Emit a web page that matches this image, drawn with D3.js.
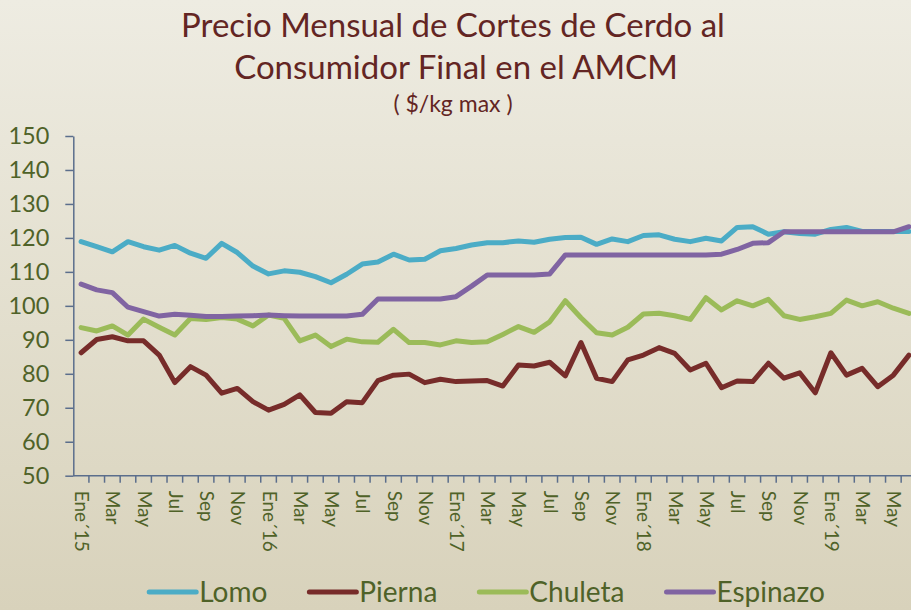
<!DOCTYPE html>
<html>
<head>
<meta charset="utf-8">
<script src="https://cdn.jsdelivr.net/npm/d3@7"></script>
<style>
  body { margin: 0; }
  svg { display: block; font-family: Lato, "Open Sans", sans-serif; }
</style>
</head>
<body>
<svg id="chart" width="911" height="610"></svg>
<script>
// months Ene 2015 .. Jun 2019
var months = [
    "2015-01","2015-02","2015-03","2015-04","2015-05","2015-06","2015-07","2015-08","2015-09","2015-10","2015-11","2015-12",
    "2016-01","2016-02","2016-03","2016-04","2016-05","2016-06","2016-07","2016-08","2016-09","2016-10","2016-11","2016-12",
    "2017-01","2017-02","2017-03","2017-04","2017-05","2017-06","2017-07","2017-08","2017-09","2017-10","2017-11","2017-12",
    "2018-01","2018-02","2018-03","2018-04","2018-05","2018-06","2018-07","2018-08","2018-09","2018-10","2018-11","2018-12",
    "2019-01","2019-02","2019-03","2019-04","2019-05","2019-06"
];

// label every second month
var tickLabels = [
    "Ene´15","Mar","May","Jul","Sep","Nov",
    "Ene´16","Mar","May","Jul","Sep","Nov",
    "Ene´17","Mar","May","Jul","Sep","Nov",
    "Ene´18","Mar","May","Jul","Sep","Nov",
    "Ene´19","Mar","May"
];

var lomo = [118.9,117.4,115.9,118.9,117.4,116.4,117.8,115.5,114.0,118.4,115.7,111.7,
    109.4,110.3,109.9,108.6,106.8,109.3,112.3,112.9,115.2,113.5,113.7,116.2,
    116.9,117.9,118.6,118.6,119.1,118.7,119.6,120.1,120.2,118.1,119.7,118.9,
    120.7,120.9,119.6,118.9,119.9,119.1,123.1,123.3,121.1,121.8,121.3,121.1,
    122.5,123.1,121.9,121.9,121.9,121.9];

var pierna = [86.2,90.1,90.9,89.7,89.7,85.5,77.4,82.1,79.6,74.3,75.7,71.8,
    69.3,71.0,73.8,68.6,68.4,71.8,71.5,78.0,79.6,79.9,77.4,78.4,
    77.7,77.9,78.0,76.4,82.6,82.3,83.4,79.4,89.2,78.7,77.7,84.1,
    85.5,87.7,86.0,81.1,83.1,75.9,77.9,77.7,83.1,78.7,80.3,74.4,
    86.2,79.6,81.6,76.2,79.6,85.5];

var chuleta = [93.6,92.6,94.1,91.4,96.1,93.7,91.4,96.3,96.0,96.6,96.1,94.1,
    97.3,96.3,89.7,91.4,88.0,90.2,89.4,89.3,93.1,89.2,89.2,88.5,
    89.7,89.2,89.4,91.6,93.9,92.2,95.3,101.5,96.5,92.1,91.4,93.7,
    97.6,97.8,97.1,96.0,102.4,98.8,101.5,100.0,101.9,97.1,96.0,96.8,
    97.8,101.7,100.0,101.2,99.3,97.8];

var espinazo = [106.4,104.7,103.9,99.6,98.3,97.0,97.5,97.2,96.9,96.9,97.0,97.1,
    97.3,97.1,97.0,97.0,97.0,97.0,97.5,102.0,102.0,102.0,102.0,102.0,
    102.7,105.8,109.1,109.1,109.1,109.1,109.4,115.0,115.0,115.0,115.0,115.0,
    115.0,115.0,115.0,115.0,115.0,115.2,116.6,118.4,118.6,121.8,121.8,121.8,
    121.8,121.8,121.8,121.8,121.8,123.3];

var seriesNames = ["Lomo", "Pierna", "Chuleta", "Espinazo"];
var seriesValues = [lomo, pierna, chuleta, espinazo];
var seriesColors = ["#4bacc6", "#772c2a", "#9bbb59", "#8064a2"];

var yTicks = [50, 60, 70, 80, 90, 100, 110, 120, 130, 140, 150];

var svgW = 911, svgH = 610;
var plotLeft = 73.3, plotTop = 136, plotBottom = 475.7;
var bandW = 15.62;
var textColor = "#4f6228";
var axisColor = "#5b6e8c";

var svg = d3.select("#chart");

// background
var defs = svg.append("defs");
var grad = defs.append("linearGradient")
    .attr("id", "bg")
    .attr("x1", 0).attr("y1", 0).attr("x2", 0).attr("y2", 1);
grad.append("stop").attr("offset", "0%").attr("stop-color", "#eeece2");
grad.append("stop").attr("offset", "100%").attr("stop-color", "#d8d2bb");
svg.append("rect")
    .attr("width", svgW)
    .attr("height", svgH)
    .attr("fill", "url(#bg)");

// title
var title = svg.append("g")
    .attr("fill", "#632523")
    .attr("text-anchor", "middle");
title.append("text")
    .attr("x", 453).attr("y", 37)
    .attr("font-size", 33)
    .text("Precio Mensual de Cortes de Cerdo al");
title.append("text")
    .attr("x", 456).attr("y", 79)
    .attr("font-size", 33)
    .text("Consumidor Final en el AMCM");
title.append("text")
    .attr("x", 453).attr("y", 112)
    .attr("font-size", 23)
    .text("( $/kg max )");

// scales
var x = d3.scaleBand()
    .domain(months)
    .range([plotLeft, plotLeft + months.length * bandW])
    .padding(0);
var y = d3.scaleLinear()
    .domain([50, 150])
    .range([plotBottom, plotTop]);

var xc = function (m) { return x(m) + x.bandwidth() / 2; };

// y axis
var yAxis = svg.append("g")
    .attr("transform", "translate(" + plotLeft + ",0)")
    .call(d3.axisLeft(y).tickValues(yTicks).tickSize(8).tickSizeOuter(0).tickPadding(16));
yAxis.select(".domain").attr("stroke", axisColor).attr("stroke-width", 1.5);
yAxis.selectAll(".tick line").attr("stroke", axisColor).attr("stroke-width", 1.5);
yAxis.selectAll(".tick text")
    .attr("fill", textColor)
    .attr("font-size", 23.5)
    .attr("font-family", "Lato, sans-serif");

// x axis: tick marks sit between categories
var xAxis = svg.append("g");
xAxis.append("line")
    .attr("x1", plotLeft)
    .attr("x2", plotLeft + months.length * bandW)
    .attr("y1", plotBottom)
    .attr("y2", plotBottom)
    .attr("stroke", axisColor)
    .attr("stroke-width", 1.5);
xAxis.selectAll("line.tick")
    .data(months)
    .enter()
    .append("line")
    .classed("tick", true)
    .attr("x1", function (m) { return x(m) + x.bandwidth(); })
    .attr("x2", function (m) { return x(m) + x.bandwidth(); })
    .attr("y1", plotBottom)
    .attr("y2", plotBottom + 7)
    .attr("stroke", axisColor)
    .attr("stroke-width", 1.5);

var labelled = months.filter(function (m, i) { return i % 2 === 0; });
xAxis.selectAll("text.month")
    .data(labelled)
    .enter()
    .append("text")
    .classed("month", true)
    .attr("transform", function (m) {
        return "translate(" + (xc(m) - 6) + "," + (plotBottom + 15) + ") rotate(90)";
    })
    .attr("fill", textColor)
    .attr("font-size", 19)
    .text(function (m, i) { return tickLabels[i]; });

// lines
var line = d3.line()
    .x(function (d, i) { return xc(months[i]); })
    .y(function (d) { return y(d); });

svg.append("g")
    .selectAll("path.series")
    .data(seriesValues)
    .enter()
    .append("path")
    .classed("series", true)
    .attr("d", line)
    .attr("fill", "none")
    .attr("stroke", function (d, i) { return seriesColors[i]; })
    .attr("stroke-width", 5)
    .attr("stroke-linejoin", "round")
    .attr("stroke-linecap", "round");

// legend, laid out from measured text widths and centred
var legend = svg.append("g");
var items = legend.selectAll("g.item")
    .data(seriesNames)
    .enter()
    .append("g")
    .classed("item", true);
items.append("line")
    .attr("x1", 0).attr("x2", 47)
    .attr("y1", 0).attr("y2", 0)
    .attr("stroke", function (d, i) { return seriesColors[i]; })
    .attr("stroke-width", 5)
    .attr("stroke-linecap", "round");
items.append("text")
    .attr("x", 50)
    .attr("dy", "0.35em")
    .attr("fill", textColor)
    .attr("font-size", 28)
    .text(function (d) { return d; });

var offset = 0;
var offsets = [];
items.each(function () {
    offsets.push(offset);
    offset += this.getBBox().width + 42;
});
var totalW = offset - 42;
var legendStart = 487 - totalW / 2;
items.attr("transform", function (d, i) {
    return "translate(" + (legendStart + offsets[i]) + ",592)";
});
</script>
</body>
</html>
